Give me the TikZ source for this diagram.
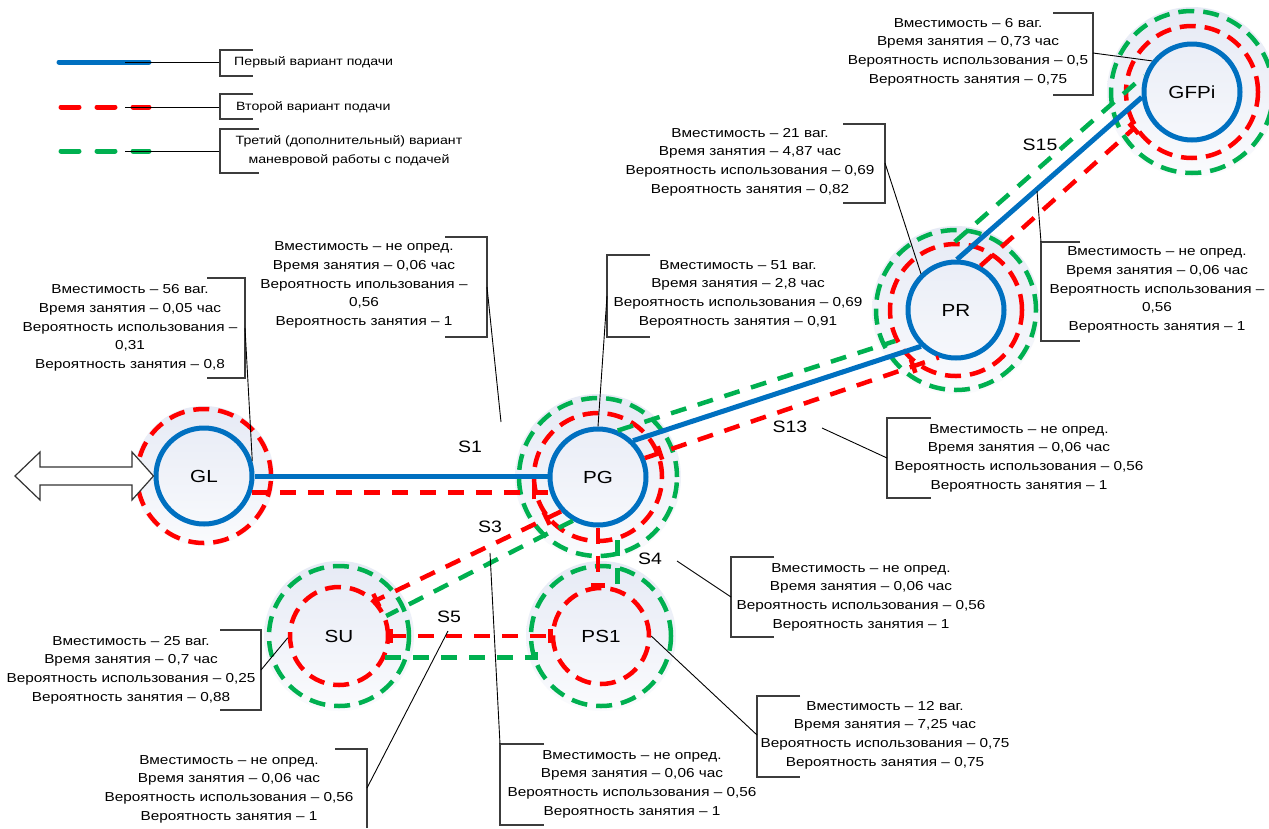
\documentclass[tikz,border=0pt]{standalone}
\usepackage{fontspec}
\setmainfont{Liberation Sans}
\newfontfamily\lbl[FakeStretch=1.18]{Liberation Sans}
\usetikzlibrary{calc,decorations.markings}

\definecolor{cblue}{RGB}{0,112,192}
\definecolor{cred}{RGB}{255,0,0}
\definecolor{cgreen}{RGB}{0,176,80}
\definecolor{halotop}{RGB}{230,234,245}
\definecolor{halobot}{RGB}{250,251,253}
\definecolor{brk}{RGB}{60,60,60}

\tikzset{
  halo/.style={circle, inner sep=0pt, draw=none, top color=halotop, bottom color=halobot},
  bluering/.style={circle, inner sep=0pt, draw=cblue, line width=5pt,
    font=\lbl\fontsize{17.5}{20}\selectfont},
  redring/.style={circle, inner sep=0pt, draw=cred, line width=4.5pt,
    dash pattern=on 16pt off 9pt, font=\lbl\fontsize{17.5}{20}\selectfont},
  greenring/.style={circle, inner sep=0pt, draw=cgreen, line width=4.5pt,
    dash pattern=on 16pt off 9pt},
  bline/.style={draw=cblue, line width=5pt},
  rline/.style={draw=cred, line width=4.5pt, dash pattern=on 16pt off 12pt},
  gline/.style={draw=cgreen, line width=4.5pt, dash pattern=on 16pt off 12pt},
  rbar/.style={postaction={decorate, decoration={markings,
    mark=at position #1 with {\draw[cred, solid, line width=4.5pt] (0pt,-7pt) -- (0pt,7pt);}}}},
  ctext/.style={align=center, inner sep=0pt, font=\lbl\fontsize{13}{18.7}\selectfont},
  legtext/.style={align=center, inner sep=0pt, font=\lbl\fontsize{12}{19.5}\selectfont},
  slabel/.style={inner sep=0pt, font=\lbl\fontsize{16.5}{18}\selectfont},
  brack/.style={draw=brk, line width=1.4pt},
  lead/.style={draw=black, line width=0.9pt},
  legline/.style={line width=5pt, line cap=round},
  legdash/.style={line width=5pt, line cap=round, dash pattern=on 18pt off 18pt},
}

\begin{document}
\begin{tikzpicture}[x=1pt,y=-1pt]
\useasboundingbox (0,0) rectangle (1269,828);
\fill[white] (0,0) rectangle (1269,828);

% ---- station centres
\coordinate (cGL) at (204,476);
\coordinate (cPG) at (598,477);
\coordinate (cPR) at (956,310);
\coordinate (cGF) at (1192,92);
\coordinate (cSU) at (339,636);
\coordinate (cPS) at (601,636);

% ---- soft background discs
\node[halo, minimum size=140pt] (GLh) at (cGL) {};
\node[halo, minimum size=166pt] (PGh) at (cPG) {};
\node[halo, minimum size=168pt] (PRh) at (cPR) {};
\node[halo, minimum size=170pt] (GFh) at (cGF) {};
\node[halo, minimum size=150pt] (SUh) at (cSU) {};
\node[halo, minimum size=150pt] (PSh) at (cPS) {};

% ---- dashed rings
\node[redring, minimum size=134pt] (GLr) at (cGL) {};
\node[greenring, minimum size=158pt] (PGg) at (cPG) {};
\node[redring, minimum size=128pt] (PGr) at (cPG) {};
\node[greenring, minimum size=160pt] (PRg) at (cPR) {};
\node[redring, minimum size=132pt] (PRr) at (cPR) {};
\node[greenring, minimum size=162pt] (GFg) at (cGF) {};
\node[redring, minimum size=132pt] (GFr) at (cGF) {};
\node[greenring, minimum size=140pt] (SUg) at (cSU) {};
\node[greenring, minimum size=140pt] (PSg) at (cPS) {};

% ---- stations
\node[bluering, minimum size=96pt] (GL) at (cGL) {GL};
\node[bluering, minimum size=96pt] (PG) at (cPG) {PG};
\node[bluering, minimum size=96pt] (PR) at (cPR) {PR};
\node[bluering, minimum size=96pt] (GF) at (cGF) {GFPi};
\node[redring, minimum size=98pt] (SU) at (cSU) {SU};
\node[redring, minimum size=96pt] (PS1) at (cPS) {PS1};

% ---- external connection of GL
\filldraw[fill=white, draw=black!80, line width=1.2pt]
  (15,476) -- (40,452) -- (40,467) -- (132,467) -- (132,452) -- (GL.west)
  -- (132,500) -- (132,485) -- (40,485) -- (40,500) -- cycle;

% ---- track sections
% S1
\draw[bline] (GL.east) -- (GL.east -| PG.west);
\draw[rline, rbar=-16pt] (GL.-19) -- (GL.-19 -| PG.198);
% S13
\draw[bline] (PG.46) -- (PR.226);
\draw[gline] (PG.67) -- (PRr.207);
\draw[rline, rbar=16pt, rbar=-27pt] (PG.22) -- (PR.250);
% S15
\draw[bline] (PR.89) -- (GF.186);
\draw[gline] (PRr.91) -- (GF.161);
\draw[rline, rbar=-0.5pt] (PR.61) -- (GFr.212);
% S3
\draw[rline, rbar=16pt, rbar=-0.5pt] (PG.223) -- (SU.44);
\draw[gline] (PG.240) -- (SU.23);
% S4
\draw[rline, rbar=-0.5pt] (PG.south) -- (PG.south |- PS1.north);
\draw[gline] (PGr.-73) -- (PGr.-73 |- PS1.68);
% S5
\coordinate (g5) at (536,646);
\draw[rline, rbar=0.5pt, rbar=-0.5pt] (SU.east) -- (PS1.west);
\draw[gline] (SU.-25) -- (SU.-25 -| g5) -- (g5);

% ---- section names
\node[slabel] (lS1) at (470,447) {S1};
\node[slabel] (lS13) at (790,427) {S13};
\node[slabel] (lS15) at (1040,145) {S15};
\node[slabel] (lS3) at (490,527) {S3};
\node[slabel] (lS4) at (650,559) {S4};
\node[slabel] (lS5) at (449,617) {S5};

% ---- legend
\coordinate (lg1a) at (59,62);   \coordinate (lg1b) at (149,62);  \coordinate (lg1c) at (125,62);
\coordinate (lg2a) at (61,107);  \coordinate (lg2b) at (149,107); \coordinate (lg2c) at (125,107);
\coordinate (lg3a) at (61,151);  \coordinate (lg3b) at (149,151); \coordinate (lg3c) at (125,151);
\coordinate (lb1) at (220,62);
\coordinate (lb2) at (220,107);
\coordinate (lb3) at (220,151);
\draw[legline, cblue] (lg1a) -- (lg1b);
\draw[legdash, cred] (lg2a) -- (lg2b);
\draw[legdash, cgreen] (lg3a) -- (lg3b);
\draw[lead] (lg1c) -- (lb1);
\draw[lead] (lg2c) -- (lb2);
\draw[lead] (lg3c) -- (lb3);
\draw[brack] (253,50) -- (220,50) -- (220,76) -- (253,76);
\draw[brack] (253,94) -- (220,94) -- (220,119) -- (253,119);
\draw[brack] (259,129) -- (220,129) -- (220,173) -- (259,173);
\node[legtext, anchor=west] (leg1) at (234,62) {Первый вариант подачи};
\node[legtext, anchor=west] (leg2) at (236,107) {Второй вариант подачи};
\node[legtext] (leg3) at (349,151) {Третий (дополнительный) вариант\\маневровой работы с подачей};

% ---- callouts: text, bracket, leader
% GL
\node[ctext] (tGL) at (130,328) {Вместимость – 56 ваг.\\Время занятия – 0,05 час\\Вероятность использования –\\0,31\\Вероятность занятия – 0,8};
\draw[brack] (207,278) -- (245,278) -- (245,378) -- (207,378);
\coordinate (bGL) at (245,328);
\draw[lead] (bGL) -- (GL.17);
% S1
\node[ctext] (tS1) at (364,285) {Вместимость – не опред.\\Время занятия – 0,06 час\\Вероятность ипользования –\\0,56\\Вероятность занятия – 1};
\draw[brack] (445,237) -- (487,237) -- (487,337) -- (445,337);
\coordinate (bS1) at (487,287);
\coordinate (pS1) at (501,422);
\draw[lead] (bS1) -- (pS1);
% PG
\node[ctext] (tPG) at (738,294) {Вместимость – 51 ваг.\\Время занятия – 2,8 час\\Вероятность использования – 0,69\\Вероятность занятия – 0,91};
\draw[brack] (650,255) -- (607,255) -- (607,337) -- (650,337);
\coordinate (bPG) at (607,296);
\draw[lead] (bPG) -- (PG.north);
% PR
\node[ctext] (tPR) at (750,162) {Вместимость – 21 ваг.\\Время занятия – 4,87 час\\Вероятность использования – 0,69\\Вероятность занятия – 0,82};
\draw[brack] (843,124) -- (885,124) -- (885,203) -- (843,203);
\coordinate (bPR) at (885,163);
\draw[lead] (bPR) -- (PR.134);
% GFPi
\node[ctext] (tGF) at (968,52) {Вместимость – 6 ваг.\\Время занятия – 0,73 час\\Вероятность использования – 0,5\\Вероятность занятия – 0,75};
\draw[brack] (1053,13) -- (1093,13) -- (1093,95) -- (1053,95);
\coordinate (bGF) at (1093,53);
\draw[lead] (bGF) -- (GF.142);
% S15
\node[ctext] (tS15) at (1157,290) {Вместимость – не опред.\\Время занятия – 0,06 час\\Вероятность использования –\\0,56\\Вероятность занятия – 1};
\draw[brack] (1080,242) -- (1041,242) -- (1041,341) -- (1080,341);
\coordinate (bS15) at (1041,242);
\coordinate (pS15) at (1037,191);
\draw[lead] (bS15) -- (pS15);
% S13
\node[ctext] (tS13) at (1019,458) {Вместимость – не опред.\\Время занятия – 0,06 час\\Вероятность использования – 0,56\\Вероятность занятия – 1};
\draw[brack] (931,418) -- (887,418) -- (887,498) -- (931,498);
\coordinate (bS13) at (887,458);
\coordinate (pS13) at (822,428);
\draw[lead] (pS13) -- (bS13);
% S4
\node[ctext] (tS4) at (861,597) {Вместимость – не опред.\\Время занятия – 0,06 час\\Вероятность использования – 0,56\\Вероятность занятия – 1};
\draw[brack] (774,557) -- (731,557) -- (731,637) -- (774,637);
\coordinate (bS4) at (731,597);
\coordinate (pS4) at (677,561);
\draw[lead] (pS4) -- (bS4);
% PS1
\node[ctext] (tPS) at (885,735) {Вместимость – 12 ваг.\\Время занятия – 7,25 час\\Вероятность использования – 0,75\\Вероятность занятия – 0,75};
\draw[brack] (800,696) -- (757,696) -- (757,777) -- (800,777);
\coordinate (bPS) at (757,735);
\draw[lead] (PS1.east) -- (bPS);
% S3
\node[ctext] (tS3) at (632,784) {Вместимость – не опред.\\Время занятия – 0,06 час\\Вероятность использования – 0,56\\Вероятность занятия – 1};
\draw[brack] (544,744) -- (500,744) -- (500,825) -- (544,825);
\coordinate (bS3) at (500,744);
\coordinate (pS3) at (490,553);
\draw[lead] (pS3) -- (bS3);
% S5
\node[ctext] (tS5) at (229,789) {Вместимость – не опред.\\Время занятия – 0,06 час\\Вероятность использования – 0,56\\Вероятность занятия – 1};
\draw[brack] (335,749) -- (367,749) -- (367,828);
\coordinate (bS5) at (367,788);
\coordinate (pS5) at (448,631);
\draw[lead] (bS5) -- (pS5);
% SU
\node[ctext] (tSU) at (131,670) {Вместимость – 25 ваг.\\Время занятия – 0,7 час\\Вероятность использования – 0,25\\Вероятность занятия – 0,88};
\draw[brack] (220,630) -- (261,630) -- (261,710) -- (220,710);
\coordinate (bSU) at (261,670);
\draw[lead] (bSU) -- (SU.182);
\end{tikzpicture}
\end{document}
